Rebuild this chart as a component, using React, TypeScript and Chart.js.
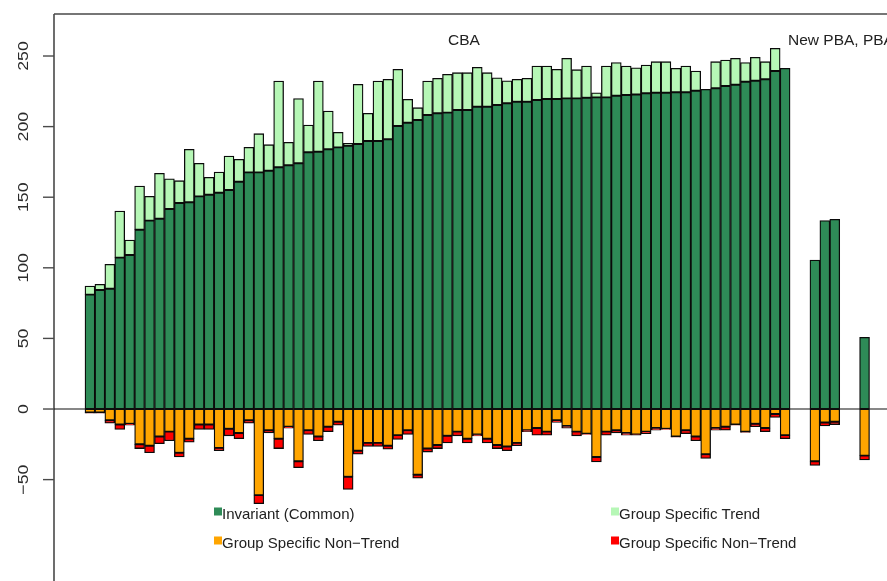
import React, { useEffect, useRef } from "react";
import { Chart, registerables } from "chart.js";

Chart.register(...registerables);

// Slots: 71 CBA groups, 2 empty, 3 "New PBA", 2 empty, 1 "PBA"
const invariant: (number | null)[] = [
  81.0, 84.3, 85.2, 107.2, 109.1, 127.0, 133.4, 134.8, 141.6, 145.9,
  146.4, 150.6, 151.8, 153.2, 155.1, 161.0, 167.6, 167.6, 168.8, 171.2,
  172.6, 174.0, 181.8, 182.2, 183.9, 185.3, 186.5, 187.7, 189.8, 189.8,
  191.0, 200.4, 202.8, 204.7, 208.2, 209.4, 209.9, 211.8, 211.8, 214.1,
  214.1, 215.3, 216.5, 217.6, 217.6, 218.8, 219.5, 219.5, 220.0, 220.0,
  220.4, 220.7, 220.7, 221.9, 222.4, 222.8, 223.6, 224.0, 224.0, 224.3,
  224.3, 225.4, 226.4, 227.1, 228.8, 229.7, 231.8, 232.5, 233.5, 239.4,
  241.3,
  null, null,
  105.5, 133.4, 134.3,
  null, null,
  50.8,
];

const groupTrend: (number | null)[] = [
  6.1, 4.0, 17.3, 33.0, 10.6, 30.9, 17.2, 32.1, 21.5, 15.8,
  37.5, 23.4, 12.3, 14.6, 24.1, 15.8, 17.7, 27.4, 18.4, 61.1,
  16.3, 45.8, 19.3, 50.1, 27.1, 10.6, 1.7, 42.2, 19.6, 42.5,
  42.5, 40.2, 16.5, 8.7, 24.1, 24.8, 27.1, 26.4, 26.4, 27.9,
  24.1, 19.3, 16.0, 15.9, 16.6, 24.1, 23.4, 21.1, 28.4, 20.3,
  22.5, 3.3, 22.2, 23.4, 20.5, 18.9, 20.0, 22.0, 22.0, 17.0,
  18.6, 14.0, 0, 18.9, 18.4, 18.7, 13.5, 16.6, 12.5, 16.0,
  0,
  null, null,
  null, null, null,
  null, null,
  null,
];

const nonTrendOrange: (number | null)[] = [
  -2.5, -2.5, -8, -11, -10.5, -25, -26, -19.5, -16, -31,
  -21, -11, -11, -27.5, -14, -17, -8, -61, -15, -21,
  -12.5, -37, -15, -19.5, -12.5, -9, -48, -29.5, -24, -24,
  -26, -18.5, -15, -46.5, -28, -25.5, -19, -16, -21, -18,
  -21, -25.5, -26.5, -24, -15, -13.5, -16, -8, -12, -16,
  -17.5, -34, -16, -15, -17, -18, -16, -13.5, -14, -19.5,
  -15, -19.5, -32, -13.5, -12.5, -11, -16, -10.5, -13.5, -3.5,
  -18.5,
  null, null,
  -37, -9.5, -9,
  null, null,
  -33,
];

const nonTrendRed: (number | null)[] = [
  -0.5, -0.5, -2, -3.5, -1, -3, -5, -5, -6.5, -3,
  -2.5, -3.5, -3.5, -2, -5, -4, -2, -6, -2, -7,
  -1, -4.5, -3, -3, -3.5, -2.5, -9, -2.5, -2.5, -2.5,
  -2.5, -3, -3, -2.5, -2.5, -2.5, -5, -3, -3, -1,
  -3, -2.5, -3, -2, -1, -5, -2.5, -1.5, -1.5, -3,
  -0.5, -3.5, -2.5, -2, -1.5, -0.5, -1.5, -1.5, -0.5, -0.5,
  -2.5, -3, -3, -1.5, -2.5, -0.5, -0.5, -2, -2.5, -2.5,
  -2.5,
  null, null,
  -3, -2.5, -2,
  null, null,
  -3,
];

const yTicks = [-50, 0, 50, 100, 150, 200, 250];
const seriesNames = [
  "Invariant (Common)",
  "Group Specific Trend",
  "Group Specific Non\u2212Trend",
  "Group Specific Non\u2212Trend",
];
const seriesColors = ["#2E8B57", "#B6F7B6", "#FFA500", "#FF0000"];
const groupTitles = ["CBA", "New PBA, PBA"];

const W = 887;
const H = 581;

function toPoints(arr: (number | null)[]) {
  const out: { x: number; y: number }[] = [];
  arr.forEach((v, i) => {
    if (v !== null && v !== undefined) out.push({ x: i, y: v });
  });
  return out;
}

const overlay = {
  id: "rOverlay",
  afterDraw(chart: any) {
    const { ctx, chartArea, scales } = chart;
    const ys = scales.y;
    const left = chartArea.left;
    ctx.save();
    // box top & left
    ctx.strokeStyle = "#4a4a4a";
    ctx.lineWidth = 1.6;
    ctx.beginPath();
    ctx.moveTo(left, chartArea.top);
    ctx.lineTo(W + 5, chartArea.top);
    ctx.moveTo(left, chartArea.top);
    ctx.lineTo(left, H + 5);
    ctx.stroke();

    // zero line
    const y0 = ys.getPixelForValue(0);
    ctx.strokeStyle = "#111";
    ctx.lineWidth = 1.2;
    ctx.beginPath();
    ctx.moveTo(left, y0);
    ctx.lineTo(W + 5, y0);
    ctx.stroke();

    // y ticks and labels
    ctx.strokeStyle = "#4a4a4a";
    ctx.lineWidth = 1.4;
    ctx.fillStyle = "#2a2a2a";
    ctx.font = "15px 'Liberation Sans', Arial, sans-serif";
    yTicks.forEach((v) => {
      const y = ys.getPixelForValue(v);
      ctx.beginPath();
      ctx.moveTo(left - 11, y);
      ctx.lineTo(left, y);
      ctx.stroke();
      ctx.save();
      ctx.translate(27.5, y);
      ctx.rotate(-Math.PI / 2);
      ctx.scale(1.18, 1);
      ctx.textAlign = "center";
      ctx.textBaseline = "alphabetic";
      ctx.fillText(v < 0 ? "\u2212" + Math.abs(v) : String(v), 0, 0);
      ctx.restore();
    });

    // group titles
    ctx.fillStyle = "#222";
    ctx.font = "15.5px 'Liberation Sans', Arial, sans-serif";
    ctx.textBaseline = "alphabetic";
    ctx.textAlign = "center";
    ctx.fillText(groupTitles[0], 464, 45);
    ctx.textAlign = "left";
    ctx.fillText(groupTitles[1], 788, 45);

    // legend
    ctx.font = "15px 'Liberation Sans', Arial, sans-serif";
    const cols = [214, 611];
    const rows = [518.5, 547.5];
    const order = [0, 1, 2, 3];
    order.forEach((si, k) => {
      const cx = cols[k % 2];
      const by = rows[Math.floor(k / 2)];
      ctx.fillStyle = seriesColors[si];
      ctx.fillRect(cx, by - 11, 8, 8);
      ctx.fillStyle = "#222";
      ctx.textAlign = "left";
      ctx.fillText(seriesNames[si], cx + 8, by);
    });
    ctx.restore();
  },
};

export default function App() {
  const ref = useRef<HTMLCanvasElement | null>(null);
  useEffect(() => {
    if (!ref.current) return;
    const common = {
      borderColor: "#0a0a0a",
      borderWidth: 1.3,
      borderSkipped: false as const,
      barPercentage: 1,
      categoryPercentage: 1,
    };
    const chart = new Chart(ref.current, {
      type: "bar",
      data: {
        datasets: [
          { label: seriesNames[0], data: toPoints(invariant) as any, backgroundColor: seriesColors[0], ...common },
          { label: seriesNames[1], data: toPoints(groupTrend) as any, backgroundColor: seriesColors[1], ...common },
          { label: seriesNames[2], data: toPoints(nonTrendOrange) as any, backgroundColor: seriesColors[2], ...common },
          { label: seriesNames[3], data: toPoints(nonTrendRed) as any, backgroundColor: seriesColors[3], ...common },
        ],
      },
      options: {
        responsive: false,
        animation: false,
        devicePixelRatio: 1,
        layout: { padding: { left: 54, top: 14, right: 0, bottom: 0 } },
        plugins: { legend: { display: false }, tooltip: { enabled: false } },
        scales: {
          x: { type: "linear", min: -3.62, max: 80.26, stacked: true, display: false, offset: false },
          y: { min: -121.8, max: 279.75, stacked: true, display: false },
        },
      },
      plugins: [overlay],
    });
    return () => chart.destroy();
  }, []);
  return (
    <div style={{ position: "fixed", left: 0, top: 0, width: W, height: H, overflow: "hidden", background: "#fff" }}>
      <canvas ref={ref} width={W} height={H} style={{ display: "block", width: W, height: H }} />
    </div>
  );
}
